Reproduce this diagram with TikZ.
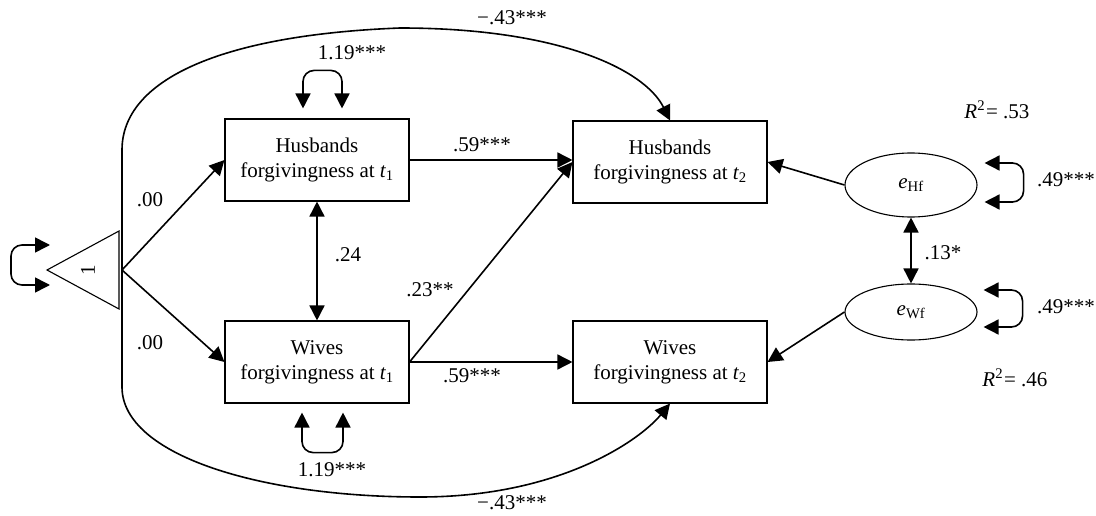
\documentclass[tikz,border=0pt]{standalone}
\usepackage{fontspec}
\setmainfont{Liberation Serif}
\usetikzlibrary{arrows.meta,shapes.geometric,calc}

\tikzset{
  every node/.style={font=\fontsize{21}{25}\selectfont},
  varbox/.style={draw, line width=1.1pt, align=center, inner sep=0pt,
    minimum height=82pt},
  errell/.style={draw, ellipse, line width=1.1pt, inner sep=0pt, minimum width=132pt},
  conn/.style={line width=1.6pt},
  tip/.style={},
  arr/.style={conn, -{Triangle[length=15pt,width=15pt]}},
  darr/.style={conn, {Triangle[length=15pt,width=15pt]}-{Triangle[length=15pt,width=15pt]}},
  loopy/.style={darr, rounded corners=11pt},
  lbl/.style={inner sep=0pt}
}

\begin{document}
\begin{tikzpicture}[x=1pt,y=-1pt]
\useasboundingbox (0,0) rectangle (1096,516);

% observed variables
\node[varbox, minimum width=184pt] (H1) at (317,160)
  {Husbands\\forgivingness at {\itshape t}\textsubscript{1}};
\node[varbox, minimum width=184pt] (W1) at (317,362)
  {Wives\\forgivingness at {\itshape t}\textsubscript{1}};
\node[varbox, minimum width=194pt] (H2) at (670,162)
  {Husbands\\forgivingness at {\itshape t}\textsubscript{2}};
\node[varbox, minimum width=194pt] (W2) at (670,362)
  {Wives\\forgivingness at {\itshape t}\textsubscript{2}};

% residuals
\node[errell, minimum height=64pt] (eH) at (911,185) {{\itshape e}\textsubscript{Hf}};
\node[errell, minimum height=56pt] (eW) at (911,312) {{\itshape e}\textsubscript{Wf}};

% constant (triangle)
\coordinate (tv) at (47,270);
\coordinate (tri) at (122,270);
\draw[line width=1.1pt] (tv) -- (119,231) -- (119,309) -- cycle;
\node[lbl, rotate=90] (one) at (88,270) {1};

% self-loops (variances)
\draw[loopy] ($(tv)+(3,-25)$) -- ++(-39,0) -- ++(0,40) -- ++(39,0);
\draw[loopy] ($(H1.north)+(-14,-10)$) -- ++(0,-38) -- ++(39,0) -- ++(0,38);
\draw[loopy] ($(W1.south)+(-15,9)$) -- ++(0,40) -- ++(41,0) -- ++(0,-40);
\draw[loopy] ($(eH.east)+(7,-22)$) -- ++(39,0) -- ++(0,39) -- ++(-39,0);
\draw[loopy] ($(eW.east)+(6,-22)$) -- ++(39,0) -- ++(0,37) -- ++(-39,0);

% means
\draw[arr] (tri) -- (H1.west);
\draw[arr] (tri) -- (W1.west);

% paths from the constant to the t2 variables
\draw[arr] (tri) -- (122,150) .. controls (122,80) and (220,35) .. (400,28)
  .. controls (560,28) and (645,70) .. (H2.north);
\draw[arr] (tri) -- (122,387) .. controls (122,455) and (260,497) .. (420,497)
  .. controls (560,497) and (640,440) .. (W2.south);

% stability and cross paths
\draw[arr] (H1.east) -- (H1.east -| H2.west);
\draw[arr] (W1.east) -- (W2.west);
\draw[arr] (W1.east) -- (H2.west);
\draw[darr] (H1.south) -- (W1.north);

% residual paths
\draw[arr] (eH.west) -- (H2.east);
\draw[arr] (eW.west) -- (W2.east);
\draw[darr] (eH.south) -- (eW.north);

% coefficients
\node[lbl] (l00a) at (150,200) {.00};
\node[lbl] (l00b) at (150,343) {.00};
\node[lbl] (l59a) at (482,145) {.59***};
\node[lbl] (l59b) at (472,376) {.59***};
\node[lbl] (l23) at (430,290) {.23**};
\node[lbl] (l24) at (348,255) {.24};
\node[lbl] (l119a) at (352,53) {1.19***};
\node[lbl] (l119b) at (332,470) {1.19***};
\node[lbl] (l43a) at (512,18) {−.43***};
\node[lbl] (l43b) at (512,503) {−.43***};
\node[lbl] (l13) at (943,253) {.13*};
\node[lbl, anchor=west] (l49a) at (1037,180) {.49***};
\node[lbl, anchor=west] (l49b) at (1037,307) {.49***};
\node[lbl] (r2a) at (997,110) {{\itshape R}\textsuperscript{2}\kern1pt= .53};
\node[lbl] (r2b) at (1015,378) {{\itshape R}\textsuperscript{2}\kern1pt= .46};
\end{tikzpicture}
\end{document}
